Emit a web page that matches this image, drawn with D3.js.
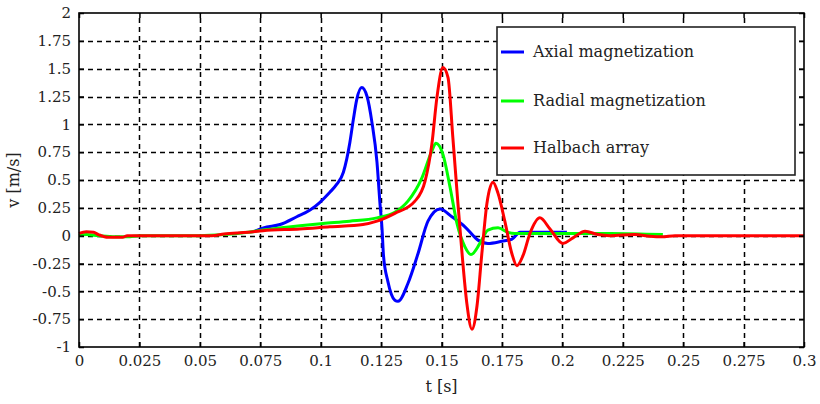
<!DOCTYPE html>
<html>
<head>
<meta charset="utf-8">
<script src="https://cdn.jsdelivr.net/npm/d3@7"></script>
<style>
  body { margin: 0; background: #fff; }
  svg { display: block; }
</style>
</head>
<body>
<svg id="chart" width="820" height="404"></svg>
<script>
// Tick values
const xTicks = [0, 0.025, 0.05, 0.075, 0.1, 0.125, 0.15, 0.175, 0.2, 0.225, 0.25, 0.275, 0.3];
const yTicks = [-1, -0.75, -0.5, -0.25, 0, 0.25, 0.5, 0.75, 1, 1.25, 1.5, 1.75, 2];

// Axial magnetization
const axialT = [0.0728, 0.0763, 0.0832, 0.0901, 0.0956, 0.0997, 0.1038, 0.1066, 0.1094, 0.1108, 0.1121, 0.1135, 0.1149, 0.117, 0.1192, 0.1212, 0.1233, 0.1245, 0.1254, 0.126, 0.1278, 0.1307, 0.132, 0.1361, 0.1403, 0.1444, 0.1494, 0.1543, 0.1597, 0.1651, 0.1692, 0.175, 0.1792, 0.1825, 0.2019];
const axialV = [0.04, 0.07, 0.1, 0.17, 0.23, 0.3, 0.39, 0.46, 0.57, 0.69, 0.84, 1.04, 1.22, 1.33, 1.25, 1.02, 0.66, 0.3, 0.06, -0.18, -0.41, -0.58, -0.59, -0.43, -0.16, 0.13, 0.24, 0.17, 0.08, -0.04, -0.07, -0.05, -0.03, 0.03, 0.03];

// Radial magnetization
const radialT = [0, 0.003, 0.008, 0.015, 0.02, 0.025, 0.05, 0.06, 0.07, 0.076, 0.0914, 0.101, 0.112, 0.1233, 0.1307, 0.1361, 0.1419, 0.146, 0.1477, 0.1506, 0.1535, 0.1564, 0.1597, 0.1622, 0.1659, 0.1692, 0.1734, 0.1775, 0.1804, 0.2, 0.22, 0.2416];
const radialV = [0, 0.01, 0, -0.01, -0.01, 0, 0, 0.01, 0.03, 0.05, 0.09, 0.11, 0.13, 0.16, 0.21, 0.31, 0.52, 0.76, 0.83, 0.73, 0.44, 0.11, -0.1, -0.17, -0.07, 0.05, 0.07, 0.03, 0.02, 0.02, 0.02, 0.01];

// Halbach array
const halbachT = [0, 0.003, 0.006, 0.008, 0.012, 0.018, 0.02, 0.055, 0.06, 0.07, 0.0761, 0.0914, 0.1038, 0.1175, 0.1233, 0.1307, 0.139, 0.1432, 0.146, 0.1481, 0.1506, 0.1527, 0.1547, 0.1568, 0.1585, 0.1605, 0.1626, 0.1647, 0.1667, 0.1688, 0.1713, 0.1734, 0.1762, 0.1791, 0.1812, 0.1837, 0.1866, 0.1907, 0.1949, 0.2002, 0.2044, 0.2094, 0.2147, 0.2197, 0.23, 0.2362, 0.2412, 0.2466, 0.3];
const halbachV = [0.02, 0.035, 0.03, 0.01, -0.015, -0.015, 0, 0, 0.015, 0.03, 0.045, 0.06, 0.08, 0.1, 0.13, 0.2, 0.31, 0.49, 0.82, 1.24, 1.51, 1.42, 0.88, 0.29, -0.16, -0.61, -0.84, -0.63, -0.16, 0.29, 0.48, 0.38, 0.13, -0.16, -0.27, -0.18, 0.02, 0.16, 0.06, -0.07, -0.02, 0.04, 0.01, 0, 0.01, -0.005, -0.01, 0, 0];

const seriesNames = ["Axial magnetization", "Radial magnetization", "Halbach array"];
const seriesColors = ["#0000ff", "#00ff00", "#ff0000"];

const FONT = "DejaVu Serif";
const svg = d3.select("#chart");
const plotLeft = 79, plotRight = 804, plotTop = 13, plotBottom = 347;

const x = d3.scaleLinear().domain([0, 0.3]).range([plotLeft, plotRight]);
const y = d3.scaleLinear().domain([-1, 2]).range([plotBottom, plotTop]);

// Grid
const grid = svg.append("g")
    .attr("stroke", "#000")
    .attr("stroke-width", 1.5)
    .attr("stroke-dasharray", "5,4");

grid.selectAll("line.v")
    .data(xTicks.slice(1, -1))
    .join("line")
    .attr("class", "v")
    .attr("x1", d => Math.round(x(d)) + 0.5)
    .attr("x2", d => Math.round(x(d)) + 0.5)
    .attr("y1", plotBottom)
    .attr("y2", plotTop);

grid.selectAll("line.h")
    .data(yTicks.slice(1, -1))
    .join("line")
    .attr("class", "h")
    .attr("y1", d => Math.round(y(d)) + 0.5)
    .attr("y2", d => Math.round(y(d)) + 0.5)
    .attr("x1", plotLeft)
    .attr("x2", plotRight);

// Curves
const line = d3.line()
    .x(d => x(d[0]))
    .y(d => y(d[1]))
    .curve(d3.curveMonotoneX);

const series = [
    d3.zip(axialT, axialV),
    d3.zip(radialT, radialV),
    d3.zip(halbachT, halbachV)
];

svg.append("g")
    .selectAll("path")
    .data(series)
    .join("path")
    .attr("d", line)
    .attr("fill", "none")
    .attr("stroke", (d, i) => seriesColors[i])
    .attr("stroke-width", 3)
    .attr("stroke-linejoin", "round");

// Axes
const fmt = v => String(+v.toFixed(3));

svg.append("g")
    .attr("transform", `translate(0,${plotBottom})`)
    .call(d3.axisBottom(x).tickValues(xTicks).tickFormat(fmt).tickSize(-5).tickPadding(8));

svg.append("g")
    .attr("transform", `translate(0,${plotTop})`)
    .call(d3.axisTop(x).tickValues(xTicks).tickFormat("").tickSize(-5));

svg.append("g")
    .attr("transform", `translate(${plotLeft},0)`)
    .call(d3.axisLeft(y).tickValues(yTicks).tickFormat(fmt).tickSize(-5).tickPadding(8));

svg.append("g")
    .attr("transform", `translate(${plotRight},0)`)
    .call(d3.axisRight(y).tickValues(yTicks).tickFormat("").tickSize(-5));

svg.selectAll(".domain").remove();
svg.selectAll(".tick line").attr("stroke", "#000").attr("stroke-width", 1.5);
svg.selectAll(".tick text")
    .attr("fill", "#222")
    .attr("font-family", FONT)
    .attr("font-size", 15);

// Frame
svg.append("rect")
    .attr("x", plotLeft)
    .attr("y", plotTop)
    .attr("width", plotRight - plotLeft)
    .attr("height", plotBottom - plotTop)
    .attr("fill", "none")
    .attr("stroke", "#000")
    .attr("stroke-width", 1.6);

// Legend
const legend = svg.append("g");
legend.append("rect")
    .attr("x", 497)
    .attr("y", 27)
    .attr("width", 298)
    .attr("height", 148)
    .attr("fill", "#fff")
    .attr("stroke", "#222")
    .attr("stroke-width", 1.6);

const legendY = [52, 101, 148];
const items = legend.selectAll("g.item")
    .data(seriesNames)
    .join("g")
    .attr("class", "item")
    .attr("transform", (d, i) => `translate(0,${legendY[i]})`);

items.append("line")
    .attr("x1", 501)
    .attr("x2", 524)
    .attr("stroke", (d, i) => seriesColors[i])
    .attr("stroke-width", 3);

items.append("text")
    .attr("x", 533)
    .attr("dy", "0.33em")
    .attr("fill", "#222")
    .attr("font-family", FONT)
    .attr("font-size", 16)
    .text(d => d);

// Axis titles
svg.append("text")
    .attr("x", (plotLeft + plotRight) / 2)
    .attr("y", 392)
    .attr("text-anchor", "middle")
    .attr("fill", "#222")
    .attr("font-family", FONT)
    .attr("font-size", 16)
    .text("t [s]");

svg.append("text")
    .attr("transform", `translate(19,${(plotTop + plotBottom) / 2}) rotate(-90)`)
    .attr("text-anchor", "middle")
    .attr("fill", "#222")
    .attr("font-family", FONT)
    .attr("font-size", 16)
    .text("v [m/s]");
</script>
</body>
</html>
